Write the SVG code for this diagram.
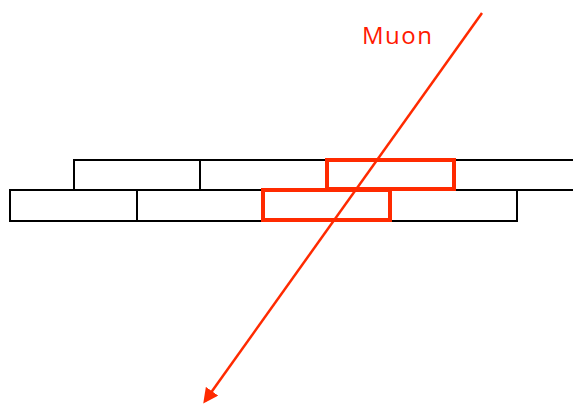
<svg xmlns="http://www.w3.org/2000/svg" width="573" height="408" viewBox="0 0 573 408">
  <style>
    .bar { fill: #ffffff; stroke: #000000; stroke-width: 2; }
    .hit { fill: none; stroke: #ff2a00; stroke-width: 4; }
    .track { stroke: #ff2a00; stroke-width: 2.5; fill: none; }
    .label { font-family: "Open Sans", "Liberation Sans", sans-serif; font-size: 24px; fill: #ff1a00; }
  </style>
  <defs>
    <marker id="head" viewBox="0 0 10 10" refX="8" refY="5" markerWidth="6" markerHeight="6" orient="auto" markerUnits="strokeWidth">
      <path d="M0,0 L10,5 L0,10 z" fill="#ff2a00"/>
    </marker>
  </defs>
  <rect width="573" height="408" fill="#ffffff"/>
  <!-- upper layer of scintillator bars -->
  <g id="upper-layer">
    <rect class="bar" x="74" y="160" width="126" height="30"/>
    <rect class="bar" x="200" y="160" width="127" height="30"/>
    <rect class="bar" x="327" y="160" width="127" height="30"/>
    <rect class="bar" x="454" y="160" width="130" height="30"/>
  </g>
  <!-- lower layer of scintillator bars -->
  <g id="lower-layer">
    <rect class="bar" x="10" y="190" width="127" height="31"/>
    <rect class="bar" x="137" y="190" width="126" height="31"/>
    <rect class="bar" x="263" y="190" width="127" height="31"/>
    <rect class="bar" x="390" y="190" width="127" height="31"/>
  </g>
  <!-- bars crossed by the track -->
  <g id="hit-bars">
    <rect class="hit" x="327" y="160" width="127" height="29"/>
    <rect class="hit" x="263" y="190" width="127" height="30"/>
  </g>
  <g id="connectors">
    <line class="track" x1="482" y1="13" x2="205" y2="401" marker-end="url(#head)"/>
  </g>
  <g id="muon-label">
    <text class="label" x="362" y="44" textLength="70" lengthAdjust="spacing">Muon</text>
  </g>
</svg>
